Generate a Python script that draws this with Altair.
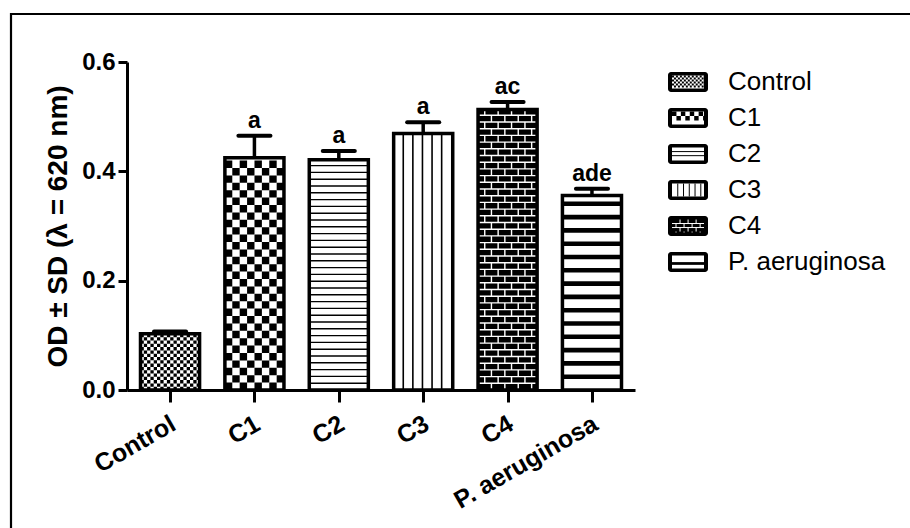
import altair as alt
import pandas as pd

# Optical density (mean, SD) per group and significance letters
groups = ["Control", "C1", "C2", "C3", "C4", "P. aeruginosa"]
od_mean = [0.103, 0.425, 0.421, 0.469, 0.513, 0.356]
od_sd = [0.004, 0.040, 0.016, 0.021, 0.014, 0.012]
sig_letters = ["", "a", "a", "a", "ac", "ade"]
y_ticks = [0.0, 0.2, 0.4, 0.6]

FONT = "Liberation Sans"
PLOT_W, PLOT_H = 508, 328
X_DOMAIN = [-0.51, 5.51]
Y_DOMAIN = [0.0, 0.6]
BAR_HALF = 0.35
CAP_HALF = 0.19
KX = (X_DOMAIN[1] - X_DOMAIN[0]) / PLOT_W  # x data units per pixel
KY = (Y_DOMAIN[1] - Y_DOMAIN[0]) / PLOT_H  # y data units per pixel

# legend block, pixels from the plot origin
LEG_X, LEG_Y, LEG_DY = 541, 20, 36
LEG_W, LEG_H = 40, 20
LEG_INSET_X, LEG_INSET_Y = 4, 3.5
LEG_HATCH_SCALE = 0.6
LEG_TEXT_X = 601

# background and hatch style of every group
bg_fill = ["white", "white", "white", "white", "black", "white"]
hatch = {
    "Control": ("checker", {"cell": 3.3, "color": "black"}),
    "C1": ("checker", {"cell": 7.4, "color": "black"}),
    "C2": ("hlines", {"step": 6.8, "width": 1.4, "color": "black"}),
    "C3": ("vlines", {"step": 9.6, "width": 1.6, "color": "black"}),
    "C4": ("brick", {"h": 6.7, "width": 1.4, "color": "white"}),
    "P. aeruginosa": ("hlines", {"step": 13.3, "width": 4.6, "color": "black"}),
}

df = pd.DataFrame({
    "group": groups,
    "idx": list(range(len(groups))),
    "od": od_mean,
    "sd": od_sd,
    "sig": sig_letters,
})

xs = alt.Scale(domain=X_DOMAIN, nice=False, zero=False)
ys = alt.Scale(domain=Y_DOMAIN, nice=False, zero=False)
fill_scale = alt.Scale(domain=groups, range=bg_fill)


def hatch_layers(src, group, kind, p, sx, sy, kx, ky, k=1.0):
    """Hatch lines inside the rectangle x0..x1 / y0..y1 of one group.

    kx, ky: data units per pixel; k: size factor for the hatch itself.
    """
    base = src.transform_filter(alt.datum.group == group)

    def X(f):
        return alt.X(f"{f}:Q", scale=sx)

    def Y(f):
        return alt.Y(f"{f}:Q", scale=sy)

    out = []
    if kind == "checker":
        c = p["cell"] * k
        rows = (
            base.transform_calculate(
                row=f"sequence(0, floor((datum.y1 - datum.y0) / {c * ky} + 1e-6))")
            .transform_flatten(["row"])
            .transform_calculate(yy=f"datum.y0 + (datum.row + 0.5) * {c * ky}")
        )
        for parity in (0, 1):
            out.append(
                rows.transform_filter(f"datum.row % 2 == {parity}")
                .mark_rule(color=p["color"], strokeWidth=c, strokeDash=[c, c],
                           strokeDashOffset=c * parity, strokeCap="butt")
                .encode(x=X("x0"), x2=alt.X2("x1"), y=Y("yy"))
            )
    elif kind in ("hlines", "brick"):
        step = (p["step"] if kind == "hlines" else p["h"]) * k
        w = max(p["width"] * k, 1.0)
        out.append(
            base.transform_calculate(
                row=f"sequence(1, floor((datum.y1 - datum.y0) / {step * ky}) + 1)")
            .transform_flatten(["row"])
            .transform_calculate(yy=f"datum.y0 + datum.row * {step * ky}")
            .transform_filter(f"datum.yy + {0.5 * w * ky} < datum.y1 - {1.5 * ky}")
            .mark_rule(color=p["color"], strokeWidth=w, strokeCap="butt")
            .encode(x=X("x0"), x2=alt.X2("x1"), y=Y("yy"))
        )
        if kind == "brick":
            h = p["h"] * k
            cols = (
                base.transform_calculate(
                    col=f"sequence(1, ceil((datum.x1 - datum.x0) / {h * kx}))")
                .transform_flatten(["col"])
                .transform_calculate(xx=f"datum.x0 + datum.col * {h * kx}")
                .transform_filter(f"datum.xx < datum.x1 - {2.5 * kx}")
            )
            for parity in (0, 1):
                out.append(
                    cols.transform_filter(f"datum.col % 2 == {parity}")
                    .mark_rule(color=p["color"], strokeWidth=w, strokeDash=[h, h],
                               strokeDashOffset=h * parity, strokeCap="butt")
                    .encode(x=X("xx"), y=Y("y0"), y2=alt.Y2("y1"))
                )
    elif kind == "vlines":
        step = p["step"] * k
        out.append(
            base.transform_calculate(
                col=f"sequence(1, ceil((datum.x1 - datum.x0) / {step * kx}))")
            .transform_flatten(["col"])
            .transform_calculate(xx=f"datum.x0 + datum.col * {step * kx}")
            .transform_filter(f"datum.xx < datum.x1 - {3 * kx}")
            .mark_rule(color=p["color"], strokeWidth=max(p["width"] * k, 1.0),
                       strokeCap="butt")
            .encode(x=X("xx"), y=Y("y0"), y2=alt.Y2("y1"))
        )
    return out


# ---- bars -------------------------------------------------------------
bars_src = alt.Chart(df).transform_calculate(
    x0=f"datum.idx - {BAR_HALF}",
    x1=f"datum.idx + {BAR_HALF}",
    y0="0",
    y1="datum.od",
)

label_expr = "[" + ",".join(f"'{g}'" for g in groups) + "][datum.value]"

bar_fill = bars_src.mark_rect().encode(
    x=alt.X(
        "x0:Q", scale=xs,
        axis=alt.Axis(
            values=list(range(len(groups))), labelExpr=label_expr, title="",
            labelAngle=330, labelAlign="right", labelBaseline="top",
            labelFont=FONT, labelFontSize=25, labelFontWeight="bold",
            labelColor="black", labelPadding=9, labelOffset=-3,
            labelOverlap=False, labelBound=False,
            tickSize=12, tickWidth=3, tickColor="black",
            domainWidth=3, domainColor="black", grid=False,
        ),
    ),
    x2=alt.X2("x1"),
    y=alt.Y(
        "y0:Q", scale=ys,
        axis=alt.Axis(
            values=y_ticks, format=".1f", title="OD ± SD (λ = 620 nm)",
            titleFont=FONT, titleFontSize=28, titleFontWeight="bold",
            titleColor="black", titlePadding=9,
            labelFont=FONT, labelFontSize=24, labelFontWeight="bold",
            labelColor="black", labelPadding=3,
            tickSize=9, tickWidth=3, tickColor="black",
            domainWidth=3, domainColor="black", grid=False,
        ),
    ),
    y2=alt.Y2("y1"),
    color=alt.Color("group:N", scale=fill_scale, legend=None),
)

bar_hatch = []
for g in groups:
    kind, p = hatch[g]
    bar_hatch += hatch_layers(bars_src, g, kind, p, xs, ys, KX, KY)

bar_outline = bars_src.mark_rect(
    filled=False, stroke="black", strokeWidth=3.5, strokeJoin="miter"
).encode(
    x=alt.X("x0:Q", scale=xs), x2=alt.X2("x1"),
    y=alt.Y("y0:Q", scale=ys), y2=alt.Y2("y1"),
)

err_base = alt.Chart(df).transform_calculate(
    top="datum.od + datum.sd",
    c0=f"datum.idx - {CAP_HALF}",
    c1=f"datum.idx + {CAP_HALF}",
)
err_stem = err_base.mark_rule(color="black", strokeWidth=3.5).encode(
    x=alt.X("idx:Q", scale=xs), y=alt.Y("od:Q", scale=ys), y2=alt.Y2("top:Q"),
)
err_cap = err_base.mark_rule(color="black", strokeWidth=4, strokeCap="round").encode(
    x=alt.X("c0:Q", scale=xs), x2=alt.X2("c1:Q"), y=alt.Y("top:Q", scale=ys),
)
sig_text = err_base.mark_text(
    font=FONT, fontSize=23, fontWeight="bold", color="black",
    baseline="bottom", dy=-3,
).encode(
    x=alt.X("idx:Q", scale=xs), y=alt.Y("top:Q", scale=ys), text="sig:N",
)

# ---- legend (pixel positions) -----------------------------------------
leg_src = alt.Chart(df).transform_calculate(
    cy=f"{LEG_Y} + datum.idx * {LEG_DY}",
    bx0=f"{LEG_X}",
    bx1=f"{LEG_X + LEG_W}",
).transform_calculate(
    by0=f"datum.cy - {LEG_H / 2}",
    by1=f"datum.cy + {LEG_H / 2}",
    x0=f"{LEG_X + LEG_INSET_X}",
    x1=f"{LEG_X + LEG_W - LEG_INSET_X}",
    y0=f"datum.cy - {LEG_H / 2 - LEG_INSET_Y}",
    y1=f"datum.cy + {LEG_H / 2 - LEG_INSET_Y}",
    tx=f"{LEG_TEXT_X}",
)
leg_box = leg_src.mark_rect(color="black", cornerRadius=3).encode(
    x=alt.X("bx0:Q", scale=None), x2=alt.X2("bx1:Q"),
    y=alt.Y("by0:Q", scale=None), y2=alt.Y2("by1:Q"),
)
leg_inner = leg_src.mark_rect().encode(
    x=alt.X("x0:Q", scale=None), x2=alt.X2("x1:Q"),
    y=alt.Y("y0:Q", scale=None), y2=alt.Y2("y1:Q"),
    color=alt.Color("group:N", scale=fill_scale, legend=None),
)
leg_hatch = []
for g in groups:
    kind, p = hatch[g]
    leg_hatch += hatch_layers(leg_src, g, kind, p, None, None, 1.0, 1.0,
                              LEG_HATCH_SCALE)
leg_text = leg_src.mark_text(
    font=FONT, fontSize=26, color="black", align="left", baseline="middle",
).encode(
    x=alt.X("tx:Q", scale=None),
    y=alt.Y("cy:Q", scale=None),
    text="group:N",
)

# ---- outer frame ------------------------------------------------------
frame = alt.Chart(pd.DataFrame({"k": [0]})).mark_rect(
    filled=False, stroke="black", strokeWidth=2.2
).encode(
    x=alt.value(-116), x2=alt.value(1000), y=alt.value(-48), y2=alt.value(700),
)

chart = alt.layer(
    bar_fill, *bar_hatch, bar_outline, err_stem, err_cap, sig_text,
    leg_box, leg_inner, *leg_hatch, leg_text, frame,
).properties(
    width=PLOT_W,
    height=PLOT_H,
    padding={"left": 127, "top": 62, "right": 275, "bottom": 138},
    autosize=alt.AutoSizeParams(type="none"),
    background="white",
).configure_view(stroke=None)

chart.save("out.html", embed_options={"renderer": "svg", "actions": False})
